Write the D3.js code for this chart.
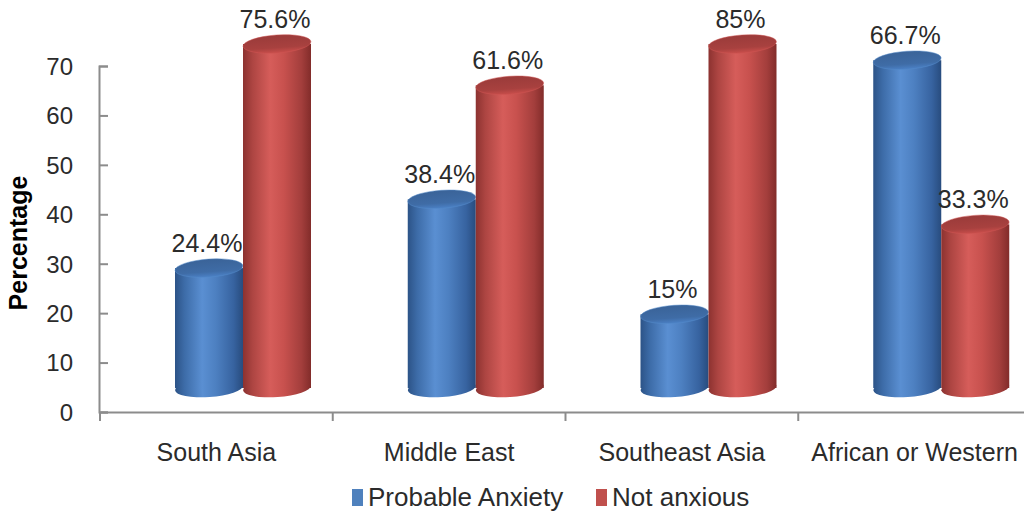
<!DOCTYPE html>
<html>
<head>
<meta charset="utf-8">
<script src="https://cdn.jsdelivr.net/npm/d3@7/dist/d3.min.js"></script>
<style>
  html, body { margin: 0; padding: 0; background: #ffffff; }
  svg { display: block; }
  text { font-family: "Liberation Sans", Arial, sans-serif; }
</style>
</head>
<body>
<svg id="chart" width="1024" height="516"></svg>
<script>
// Regions surveyed and the share of respondents in each group (%)
const categories = ["South Asia", "Middle East", "Southeast Asia", "African or Western"];
const seriesNames = ["Probable Anxiety", "Not anxious"];
const probableAnxiety = [24.4, 38.4, 15, 66.7];
const notAnxious = [75.6, 61.6, 85, 33.3];
const valueLabels = [
  ["24.4%", "38.4%", "15%", "66.7%"],
  ["75.6%", "61.6%", "85%", "33.3%"]
];
const yTicks = [0, 10, 20, 30, 40, 50, 60, 70];

const seriesValues = [probableAnxiety, notAnxious];
const palette = {
  "Probable Anxiety": { base: "#4f81bd", top: "#3f6ca6", stops: ["#2c5387", "#3d6ca8", "#5a8fd2", "#4d80c1", "#3763a0", "#284c7e"] },
  "Not anxious":      { base: "#c0504d", top: "#a8413f", stops: ["#8c3230", "#ad4542", "#d65d5a", "#c8514e", "#a33e3c", "#822c2a"] }
};

const svg = d3.select("#chart");
const defs = svg.append("defs");

// Horizontal shading that gives each bar its rounded look
seriesNames.forEach((name, i) => {
  const g = defs.append("linearGradient")
    .attr("id", "body" + i).attr("x1", 0).attr("x2", 1).attr("y1", 0).attr("y2", 0);
  const offs = [0, 0.14, 0.4, 0.6, 0.86, 1];
  palette[name].stops.forEach((c, k) => g.append("stop").attr("offset", offs[k]).attr("stop-color", c));
  const t = defs.append("linearGradient")
    .attr("id", "top" + i).attr("x1", 0).attr("x2", 0).attr("y1", 0).attr("y2", 1);
  t.append("stop").attr("offset", 0).attr("stop-color", d3.color(palette[name].top).darker(0.25));
  t.append("stop").attr("offset", 0.7).attr("stop-color", palette[name].top);
  t.append("stop").attr("offset", 1).attr("stop-color", d3.color(palette[name].top).brighter(0.5));
});

// Axis scale (front plane) and the scale of the bars, which sit further back in depth
const yAxisScale = d3.scaleLinear().domain([0, 70]).range([412, 66]);
const yBar = d3.scaleLinear().domain([0, 70]).range([388, 44]).clamp(true);

const x0 = d3.scaleBand().domain(categories).range([100, 1031]).paddingInner(0).paddingOuter(0);
const x1 = d3.scaleBand().domain(seriesNames).range([75, 211]);

const axisColor = "#8c8c8c";
const textColor = "#2b2b2b";

// Y axis
const yAxis = d3.axisRight(yAxisScale).tickValues(yTicks).tickSize(9).tickFormat(d3.format("d"));
const gy = svg.append("g").attr("transform", "translate(99,0)").call(yAxis);
gy.select(".domain").attr("stroke", axisColor).attr("stroke-width", 2);
gy.selectAll(".tick line").attr("stroke", axisColor).attr("stroke-width", 2);
gy.selectAll(".tick text")
  .attr("x", -26).attr("text-anchor", "end").attr("dy", "0.35em")
  .attr("fill", textColor).style("font-size", "24px");

// X axis
const xAxis = d3.axisBottom(x0).tickSize(0).tickSizeOuter(0);
const gx = svg.append("g").attr("transform", "translate(0,412)").call(xAxis);
gx.select(".domain").attr("stroke", axisColor).attr("stroke-width", 2);
gx.selectAll(".tick text").attr("y", 40).attr("dy", "0.35em").attr("fill", textColor).style("font-size", "25px");
// category dividers
gx.selectAll("line.sep").data(categories).enter().append("line")
  .attr("class", "sep")
  .attr("x1", d => x0(d)).attr("x2", d => x0(d))
  .attr("y1", 0).attr("y2", 9)
  .attr("stroke", axisColor).attr("stroke-width", 2);

// Cylinders
const ry = 9;
const tilt = -4;
const plot = svg.append("g");
categories.forEach((cat, ci) => {
  seriesNames.forEach((name, si) => {
    const v = seriesValues[si][ci];
    const w = x1.bandwidth();
    const left = x0(cat) + x1(name);
    const cx = left + w / 2;
    const rx = w / 2;
    const yTop = yBar(v);
    const yBase = yBar(0);
    const g = plot.append("g");
    // bottom cap (lower half shows below the body)
    g.append("ellipse")
      .attr("cx", cx).attr("cy", yBase).attr("rx", rx).attr("ry", ry)
      .attr("transform", `rotate(${tilt},${cx},${yBase})`)
      .attr("fill", `url(#body${si})`);
    // body
    g.append("rect")
      .attr("x", left).attr("y", yTop).attr("width", w).attr("height", yBase - yTop)
      .attr("fill", `url(#body${si})`);
    // top cap
    g.append("ellipse")
      .attr("cx", cx).attr("cy", yTop).attr("rx", rx).attr("ry", ry)
      .attr("transform", `rotate(${tilt},${cx},${yTop})`)
      .attr("fill", `url(#top${si})`)
      .attr("stroke", d3.color(palette[name].base).brighter(0.2)).attr("stroke-width", 0.8).attr("stroke-opacity", 0.6);
    // value label
    svg.append("text")
      .attr("x", cx - 2).attr("y", yTop - 16)
      .attr("text-anchor", "middle")
      .attr("fill", textColor)
      .style("font-size", "25px")
      .text(valueLabels[si][ci]);
  });
});

// Y axis title
svg.append("text")
  .attr("transform", "translate(27,243) rotate(-90)")
  .attr("text-anchor", "middle")
  .attr("fill", "#000")
  .style("font-size", "25px").style("font-weight", "bold")
  .text("Percentage");

// Legend
const legendItems = [
  { name: seriesNames[0], x: 352 },
  { name: seriesNames[1], x: 596 }
];
const lg = svg.append("g").attr("transform", "translate(0,497)");
legendItems.forEach(item => {
  lg.append("rect").attr("x", item.x).attr("y", -8).attr("width", 11).attr("height", 17)
    .attr("fill", palette[item.name].base);
  lg.append("text").attr("x", item.x + 16).attr("y", 0).attr("dy", "0.35em")
    .attr("fill", textColor).style("font-size", "26px").text(item.name);
});
</script>
</body>
</html>
